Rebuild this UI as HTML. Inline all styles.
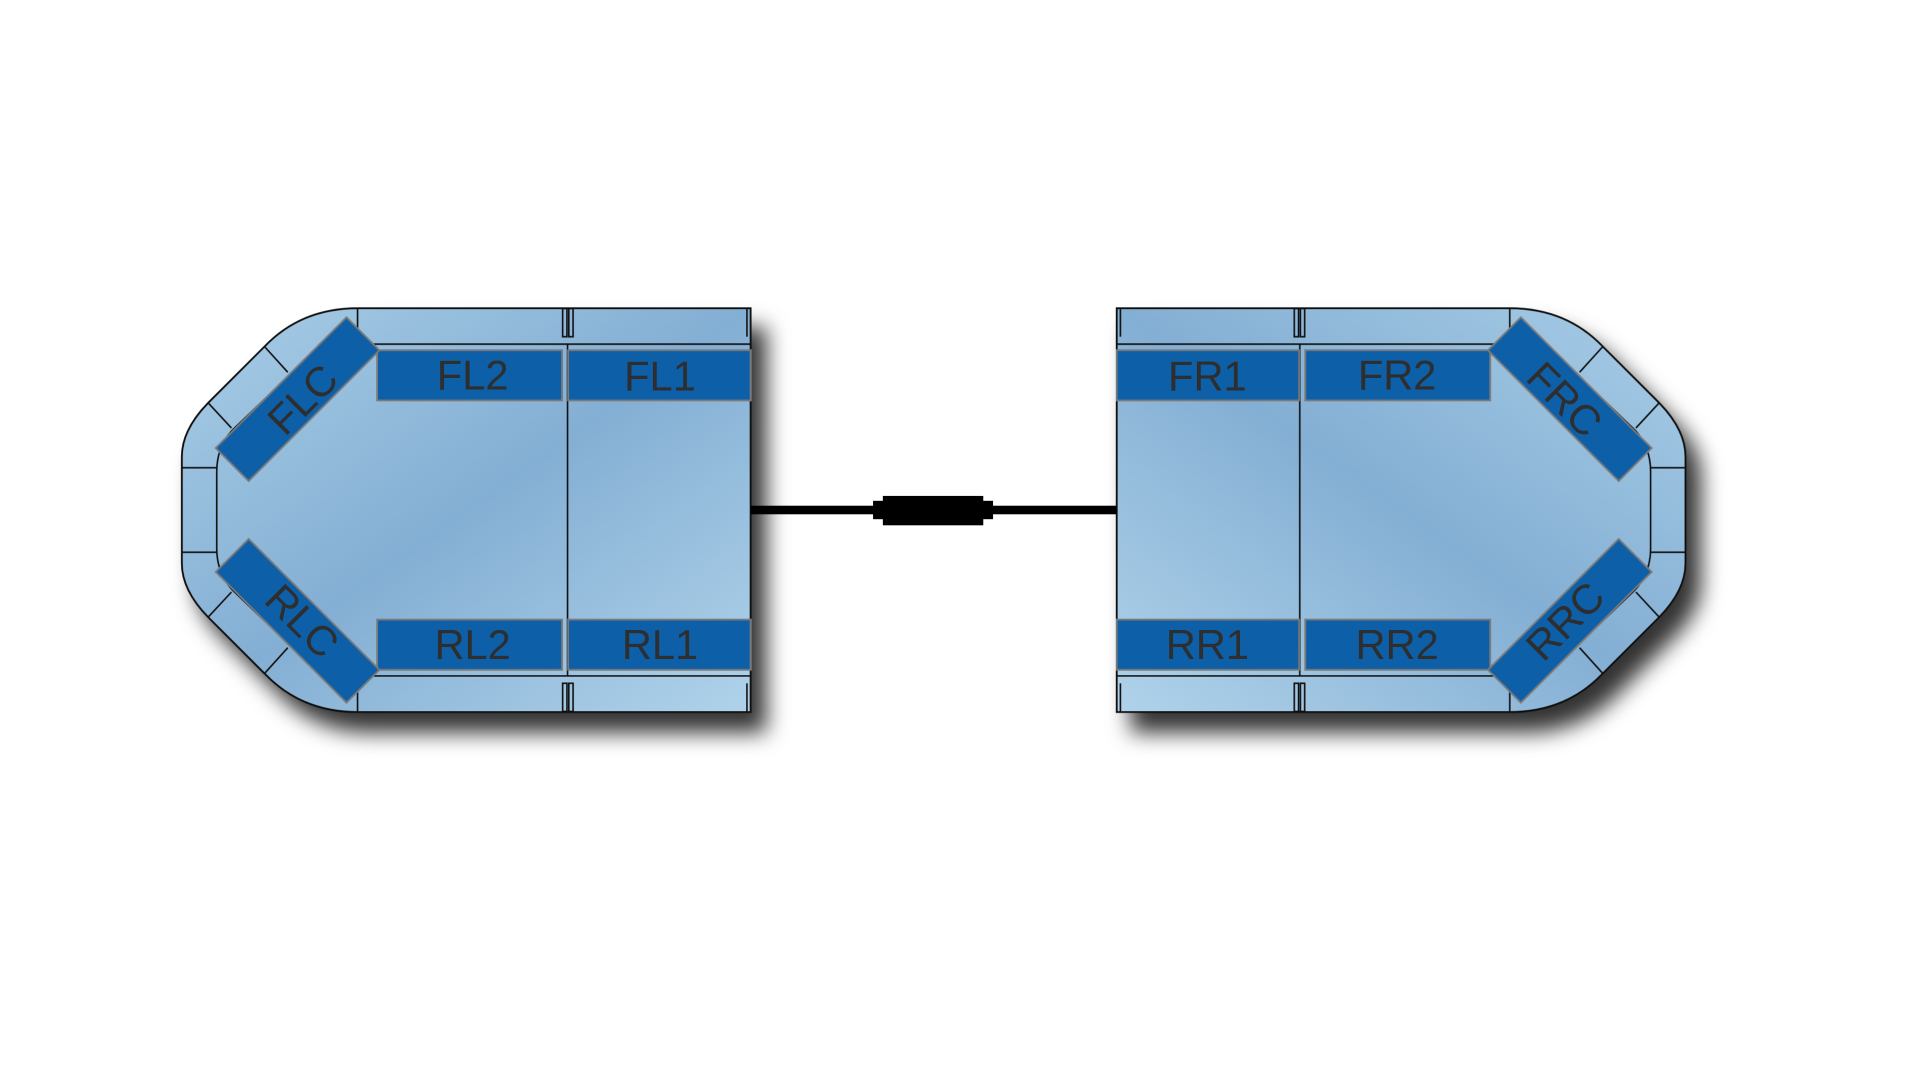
<!DOCTYPE html>
<html><head><meta charset="utf-8"><style>html,body{margin:0;padding:0;background:#fff;}svg{display:block;}</style></head>
<body>
<svg width="1920" height="1080" viewBox="0 0 1568 882" preserveAspectRatio="none" xmlns="http://www.w3.org/2000/svg">
<defs>
<linearGradient id="g" x1="0" y1="0" x2="1" y2="1">
<stop offset="0" stop-color="#a8cde6"/>
<stop offset="0.5" stop-color="#84afd4"/>
<stop offset="1" stop-color="#b0d3ea"/>
</linearGradient>
<filter id="sh" x="-20%" y="-20%" width="150%" height="150%">
<feDropShadow dx="12" dy="16" stdDeviation="9" flood-color="#000" flood-opacity="0.8"/>
</filter>
<g id="body">
<path d="M292,251.7 L613,251.7 L613,581.5 L292,581.5 Q246,581.5 216,550 L170,504 Q148.5,482 148.5,460 L148.5,373 Q148.5,351 170,329 L216,283 Q246,251.7 292,251.7 Z" fill="url(#g)" stroke="#111" stroke-width="1.5"/>
<g fill="none" stroke="#111" stroke-width="1.3">
<path d="M613,281 L292,281 Q262,281 240,303 L190,351 Q177,365 177,385 L177,448 Q177,468 190,482 L240,530 Q262,552 292,552 L613,552"/>
<path d="M216,283 L235,304 M170,329 L189,349.5 M148.5,382 L177,382 M148.5,451 L177,451 M170,504 L189,483.5 M216,550 L235,529"/>
<path d="M292,251.7 V281 M292,552 V581.5 M463.5,281 V552"/>
<rect x="459.5" y="252" width="3.5" height="23" /><rect x="464.5" y="252" width="3.5" height="23"/>
<rect x="459.5" y="558" width="3.5" height="23" /><rect x="464.5" y="558" width="3.5" height="23"/>
<path d="M610,252 V275 M610,558 V581"/>
</g>
<g fill="#0a5ea8" stroke="#7a7a7a" stroke-width="1.5">
<rect x="308" y="286" width="151" height="41"/>
<rect x="464" y="286" width="149" height="41"/>
<rect x="308" y="506" width="151" height="41"/>
<rect x="464" y="506" width="149" height="41"/>
<rect x="167.5" y="307" width="151" height="38" transform="rotate(-45 243 326)"/>
<rect x="167.5" y="488" width="151" height="38" transform="rotate(45 243 507)"/>
</g>
</g>
</defs>
<g filter="url(#sh)">
<use href="#body"/>
<use href="#body" transform="translate(1525,0) scale(-1,1)"/>
</g>
<rect x="613" y="413" width="299" height="7" fill="#000"/>
<rect x="713" y="409" width="98" height="15" fill="#000"/>
<rect x="721" y="405" width="82" height="24" fill="#000"/>
<g font-family="Liberation Sans, Arial, sans-serif" font-size="34" fill="#2e2e2e" text-anchor="middle">
<text x="386" y="318">FL2</text>
<text x="539" y="319">FL1</text>
<text x="386" y="538">RL2</text>
<text x="539" y="538">RL1</text>
<text x="986" y="319">FR1</text>
<text x="1141" y="318">FR2</text>
<text x="986" y="538">RR1</text>
<text x="1141" y="538">RR2</text>
<text x="247" y="338" transform="rotate(-45 247 326)">FLC</text>
<text x="247" y="519" transform="rotate(45 247 507)">RLC</text>
<text x="1278" y="338" transform="rotate(45 1278 326)">FRC</text>
<text x="1278" y="519" transform="rotate(-45 1278 507)">RRC</text>
</g>
</svg>
</body></html>
